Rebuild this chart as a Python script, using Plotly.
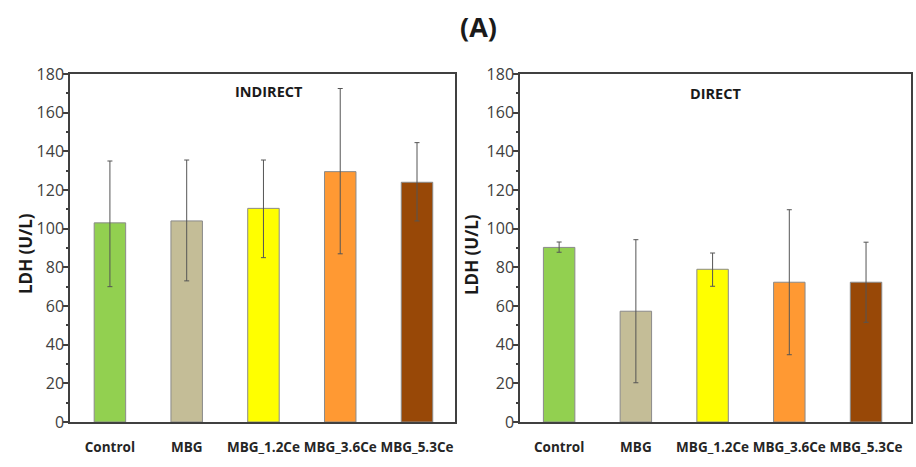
import plotly.graph_objects as go

categories = ["Control", "MBG", "MBG_1.2Ce", "MBG_3.6Ce", "MBG_5.3Ce"]
colors = ["#92D050", "#C4BD97", "#FFFF00", "#FF9933", "#984807"]

indirect_values = [103, 104, 110.5, 129.5, 124]
indirect_err_plus = [32, 31.5, 25, 43, 20.5]
indirect_err_minus = [33, 31, 25.5, 42.5, 20]

direct_values = [90.3, 57.3, 79, 72.3, 72.3]
direct_err_plus = [2.8, 37, 8.4, 37.5, 20.7]
direct_err_minus = [2.5, 37, 8.8, 37.5, 20.7]

panel_titles = ["INDIRECT", "DIRECT"]
y_title = "LDH (U/L)"
y_ticks = list(range(0, 181, 20))

FONT = "Open Sans"
AX = "#404040"

fig = go.Figure()

def add_panel(vals, ep, em, xa, ya):
    fig.add_trace(go.Bar(
        x=list(range(len(categories))), y=vals,
        width=0.41,
        marker=dict(color=colors, line=dict(color="#8a8a8a", width=1)),
        error_y=dict(type="data", symmetric=False, array=ep, arrayminus=em,
                     color="#555555", thickness=1, width=2.5),
        xaxis=xa, yaxis=ya, showlegend=False,
    ))

add_panel(indirect_values, indirect_err_plus, indirect_err_minus, "x", "y")
add_panel(direct_values, direct_err_plus, direct_err_minus, "x2", "y2")

def xaxis(domain, rng):
    return dict(domain=domain, range=rng, tickmode="array", automargin=False,
                tickvals=list(range(len(categories))), ticktext=categories,
                showline=True, linecolor=AX, linewidth=1.5, mirror=True,
                ticks="", showgrid=False, zeroline=False,
                tickfont=dict(family=FONT, size=13.5, color="#262626", weight="bold"),
                ticklabelstandoff=12)

def yaxis(domain, anchor):
    return dict(domain=domain, range=[0, 180], anchor=anchor, automargin=False,
                tickmode="array", tickvals=y_ticks,
                showline=True, linecolor=AX, linewidth=1.5, mirror=True,
                ticks="outside", ticklen=5, tickcolor=AX, tickwidth=1.5,
                minor=dict(ticks="outside", ticklen=2, tickcolor=AX, dtick=10, tick0=0),
                showgrid=False, zeroline=False, ticklabelstandoff=-4,
                tickfont=dict(family=FONT, size=16, color="#404040"))

ydom = [45/467, 1 - 74/467]

def ann(text, xpx, ypx, size, angle=0):
    return dict(text=text, x=xpx/916, y=1 - ypx/467, xref="paper", yref="paper",
                showarrow=False, xanchor="center", yanchor="middle", textangle=angle,
                font=dict(family=FONT, size=size, color="#1a1a1a", weight="bold"))

fig.update_layout(
    width=916, height=467,
    margin=dict(l=0, r=0, t=0, b=0),
    paper_bgcolor="white", plot_bgcolor="white",
    xaxis=dict(**xaxis([70/916, 455/916], [-0.52, 4.495]), anchor="y"),
    yaxis=yaxis(ydom, "x"),
    xaxis2=dict(**xaxis([520/916, 911/916], [-0.51, 4.586]), anchor="y2"),
    yaxis2=yaxis(ydom, "x2"),
    annotations=[
        ann("(A)", 478, 27, 27),
        ann(panel_titles[0], 269, 92, 14.5),
        ann(panel_titles[1], 715, 94, 14.5),
        ann(y_title, 25, 254, 17, -90),
        ann(y_title, 471, 255, 17, -90),
    ],
)

fig.write_html("out.html")
